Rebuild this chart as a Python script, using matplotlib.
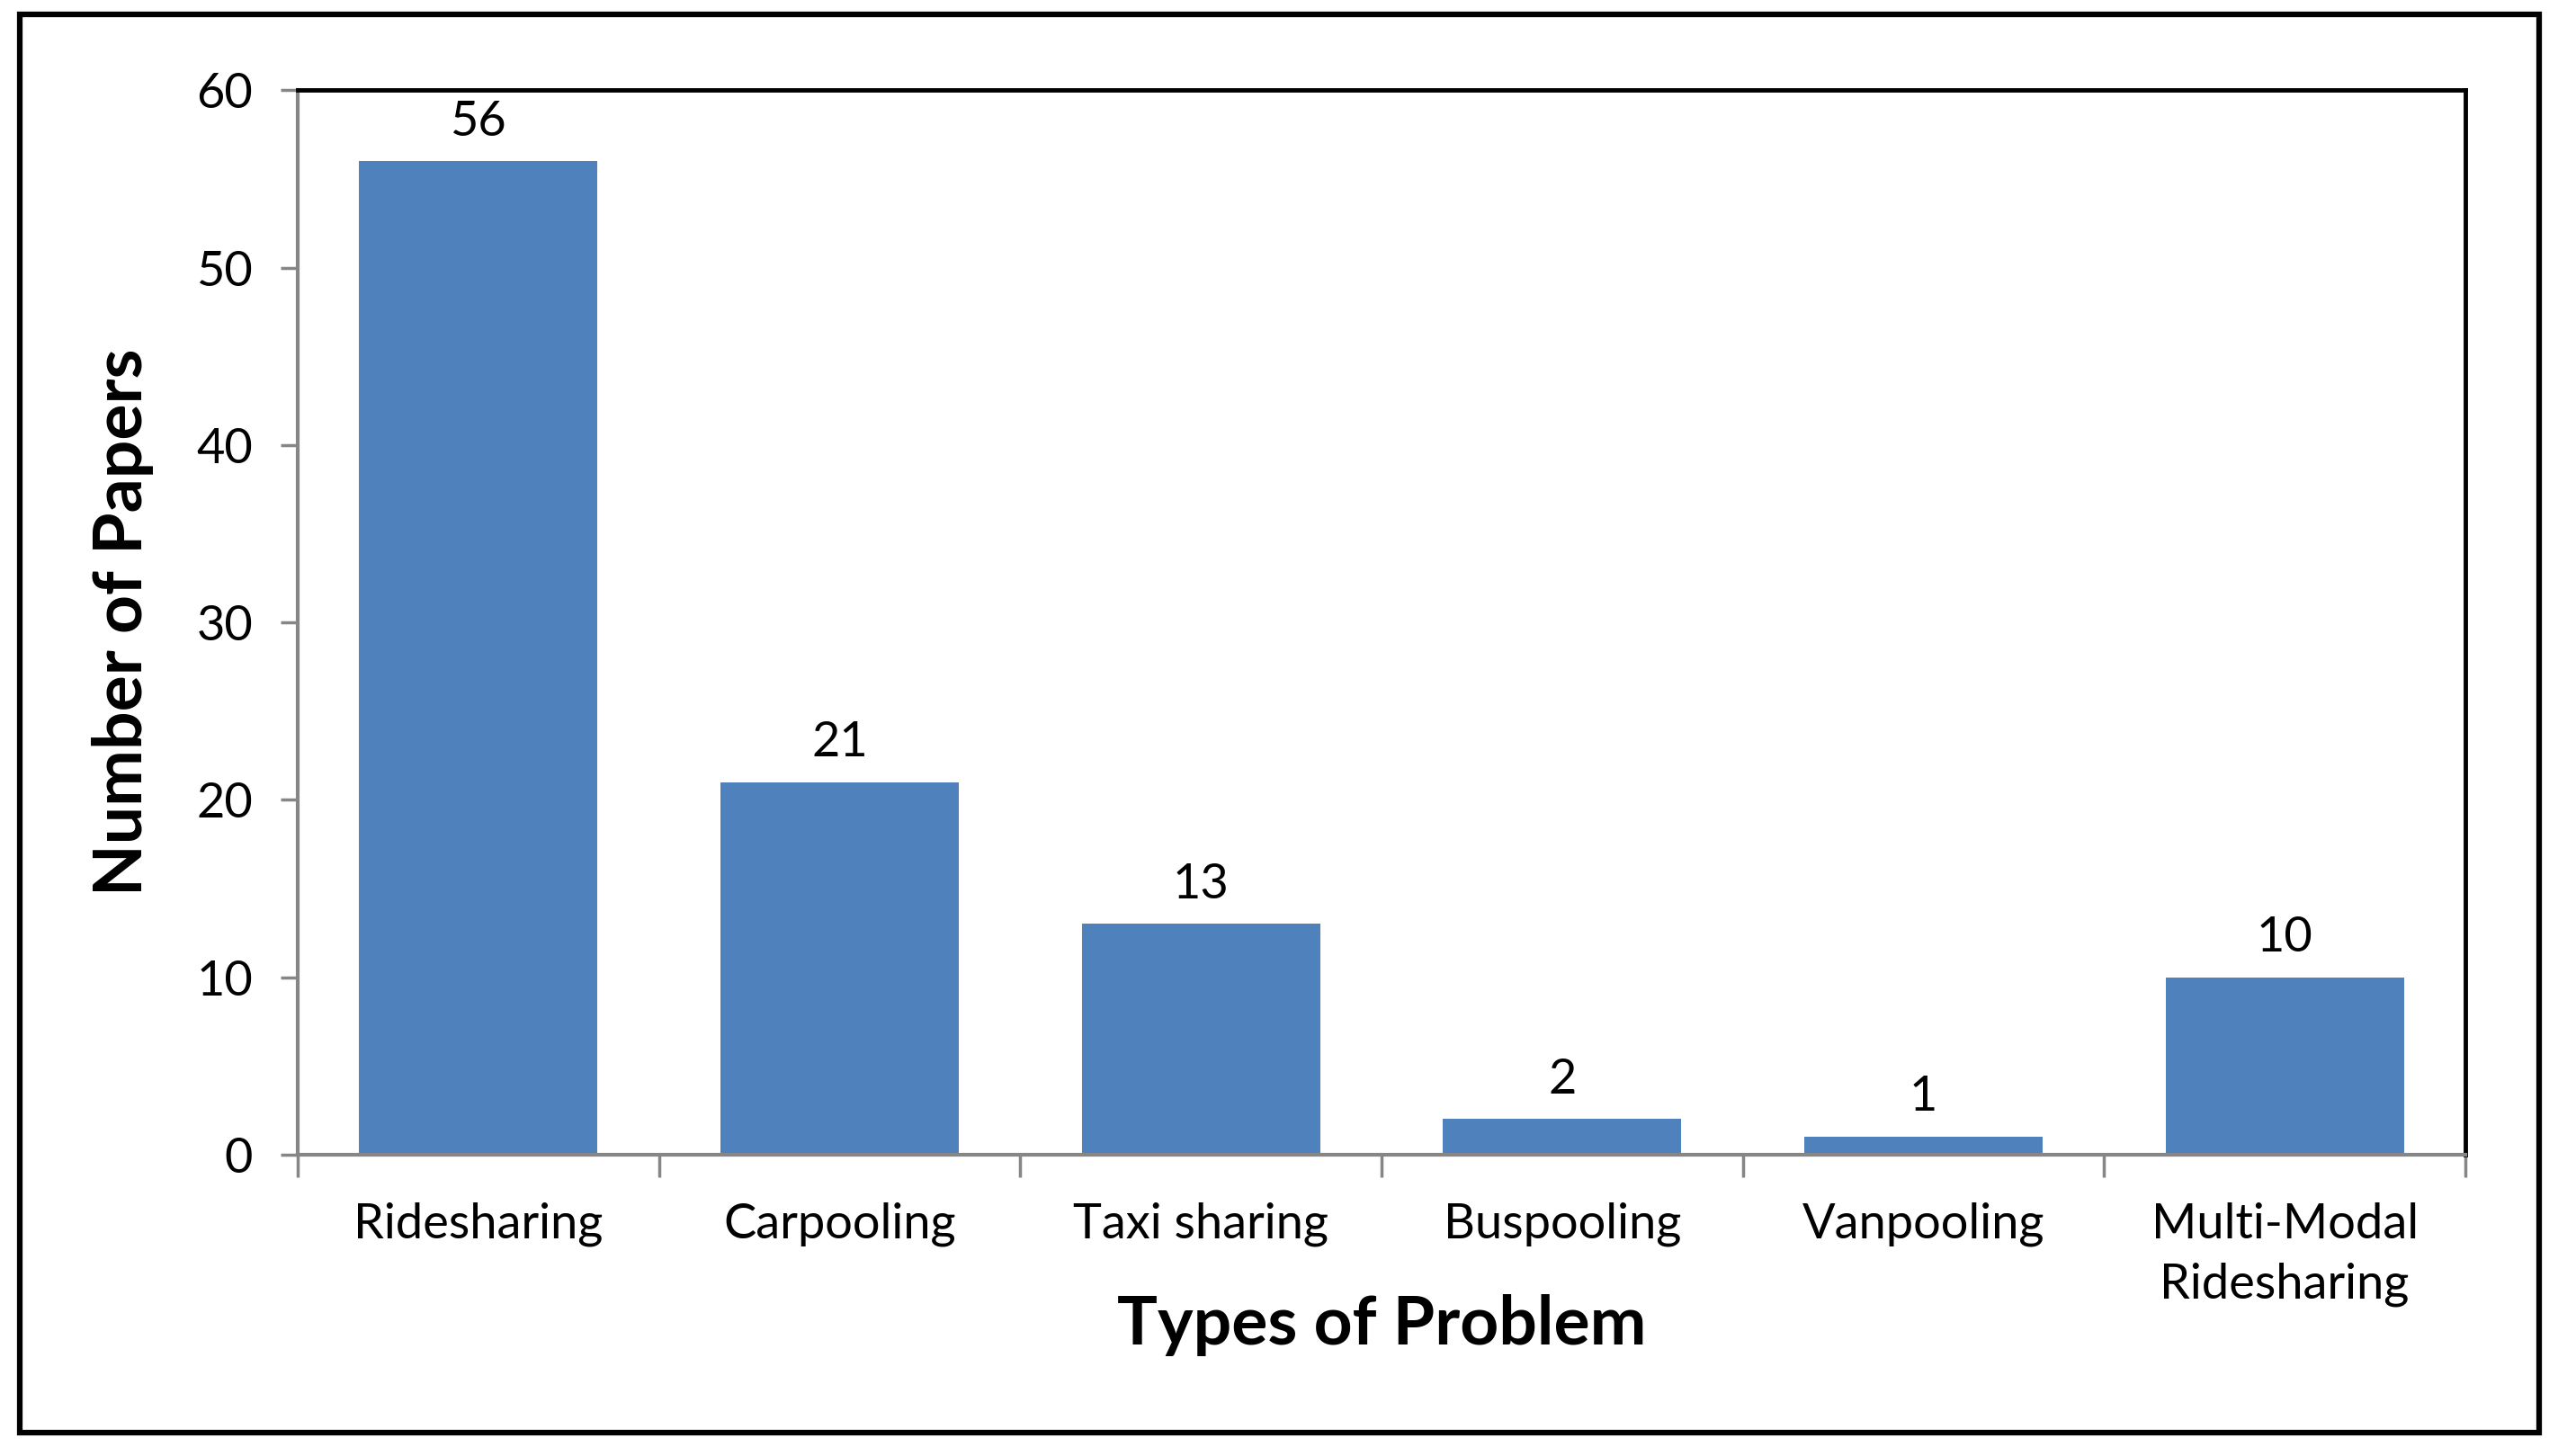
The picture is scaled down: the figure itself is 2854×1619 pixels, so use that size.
import matplotlib.pyplot as plt
import numpy as np

# Number of papers per problem type
categories = ['Ridesharing', 'Carpooling', 'Taxi sharing', 'Buspooling', 'Vanpooling', 'Multi-Modal\nRidesharing']
papers = [56, 21, 13, 2, 1, 10]

plt.rcParams['font.family'] = ['Lato', 'DejaVu Sans']

fig = plt.figure(figsize=(28.54, 16.19), dpi=100)
ax = fig.add_axes([0.116, 0.207, 0.8444, 0.731])

x = np.arange(len(categories))
ax.bar(x, papers, width=0.66, color='#4F81BD', zorder=2)

# value labels above bars
for xi, v in zip(x, papers):
    ax.text(xi, v + 1.0, str(v), ha='center', va='bottom', fontsize=39)

ax.set_xlim(-0.5, len(categories) - 0.5)
ax.set_ylim(0, 60)
ax.set_yticks(range(0, 61, 10))
ax.tick_params(axis='y', labelsize=39, length=14, width=2.5, color='#868686', pad=22)

# x ticks at category boundaries, labels at centres
ax.set_xticks(np.arange(-0.5, len(categories)), minor=False)
ax.set_xticklabels([])
ax.set_xticks(x, minor=True)
ax.set_xticklabels(categories, minor=True, fontsize=39, linespacing=1.45)
ax.tick_params(axis='x', which='major', length=18, width=2.5, color='#868686')
ax.tick_params(axis='x', which='minor', length=0, pad=38)

for side in ['left', 'bottom']:
    ax.spines[side].set_color('#868686')
    ax.spines[side].set_linewidth(3)
for side in ['top', 'right']:
    ax.spines[side].set_color('black')
    ax.spines[side].set_linewidth(3.5)

ax.set_ylabel('Number of Papers', fontsize=54, fontweight='bold', labelpad=34)
ax.set_xlabel('Types of Problem', fontsize=54, fontweight='bold', labelpad=-10)

# outer frame around the chart
fig.patches.append(plt.Rectangle((0.0077, 0.016), 0.9815, 0.974, transform=fig.transFigure,
                                 fill=False, edgecolor='black', linewidth=4.5))

fig.savefig('out.png', dpi=100)
